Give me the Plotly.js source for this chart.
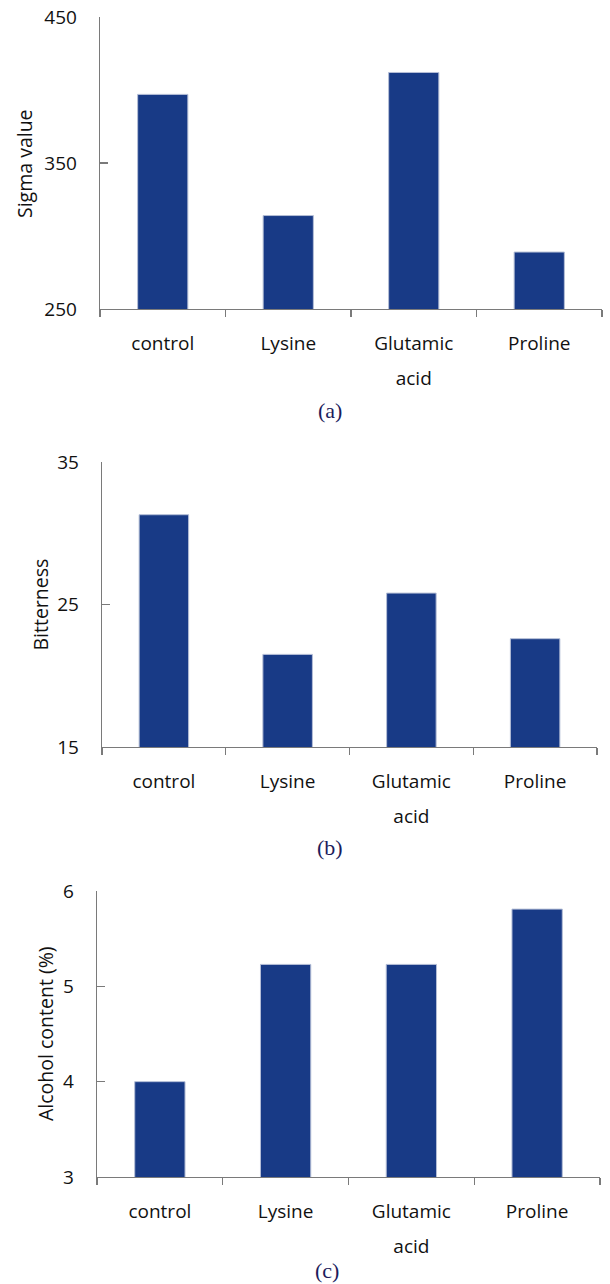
<!DOCTYPE html>
<html>
<head>
<meta charset="utf-8">
<script src="https://cdn.plot.ly/plotly-3.0.1.min.js"></script>
<style>html,body{margin:0;padding:0;background:#fff;}#chart{width:610px;height:1284px;}</style>
</head>
<body>
<div id="chart"></div>
<script>
// ---- data ----
var categories = ["control", "Lysine", "Glutamic acid", "Proline"];
var tickLines = [["control"], ["Lysine"], ["Glutamic", "acid"], ["Proline"]];
var sigmaValue = [397, 314, 412, 289];
var bitterness = [31.3, 21.5, 25.8, 22.6];
var alcoholContent = [4.0, 5.23, 5.23, 5.81];
var yTitles = ["Sigma value", "Bitterness", "Alcohol content (%)"];
var captions = ["(a)", "(b)", "(c)"];
var yRanges = [[250, 450], [15, 35], [3, 6]];
var yDticks = [100, 10, 1];

// ---- layout helpers ----
var W = 610, H = 1284;
var panels = [
  {x0: 100, x1: 602, yTop: 17, yBot: 309, titleX: 25, capX: 330, capY: 410},
  {x0: 102, x1: 597, yTop: 462, yBot: 747, titleX: 40, capX: 330, capY: 847},
  {x0: 97, x1: 600, yTop: 891, yBot: 1177, titleX: 45, capX: 327, capY: 1270}
];
var series = [sigmaValue, bitterness, alcoholContent];
var barColor = "#183a86";
var axisColor = "#7a7a7a";
var textFont = "Open Sans, Noto Sans, sans-serif";

var tickText = tickLines.map(function (lines) {
  return lines.map(function (l) { return '<span style="font-size:19px">' + l + '</span>'; }).join("<br>");
});

var data = [];
var layout = {
  width: W, height: H,
  margin: {l: 0, r: 0, t: 0, b: 0},
  paper_bgcolor: "#fff", plot_bgcolor: "#fff",
  showlegend: false,
  bargap: 0.6,
  annotations: []
};

panels.forEach(function (p, i) {
  var sfx = i === 0 ? "" : String(i + 1);
  data.push({
    type: "bar",
    x: categories,
    y: series[i],
    xaxis: "x" + sfx,
    yaxis: "y" + sfx,
    marker: {color: barColor, line: {color: "#b4bed6", width: 1}},
    hoverinfo: "x+y"
  });
  layout["xaxis" + sfx] = {
    domain: [p.x0 / W, p.x1 / W],
    anchor: "y" + sfx,
    type: "category",
    range: [-0.5, 3.5],
    tickmode: "array",
    tickvals: categories,
    ticktext: tickText,
    tickson: "boundaries",
    ticks: "outside",
    ticklen: 7,
    tickwidth: 1.3,
    tickcolor: axisColor,
    showline: true,
    linecolor: axisColor,
    linewidth: 1.3,
    showgrid: false,
    zeroline: false,
    tickangle: 0,
    ticklabelstandoff: 8,
    tickfont: {family: textFont, size: 26.5, color: "#111"},
    fixedrange: true
  };
  layout["yaxis" + sfx] = {
    domain: [1 - p.yBot / H, 1 - p.yTop / H],
    anchor: "x" + sfx,
    range: yRanges[i],
    dtick: yDticks[i],
    tick0: yRanges[i][0],
    ticks: "inside",
    ticklen: 8,
    tickwidth: 1.3,
    tickcolor: axisColor,
    showline: true,
    linecolor: axisColor,
    linewidth: 1.3,
    showgrid: false,
    zeroline: false,
    ticklabelstandoff: 18,
    tickfont: {family: textFont, size: 19, color: "#111"},
    fixedrange: true
  };
  layout.annotations.push({
    text: yTitles[i],
    xref: "paper", yref: "paper",
    x: p.titleX / W, y: 1 - ((p.yTop + p.yBot) / 2) / H,
    xanchor: "center", yanchor: "middle",
    textangle: -90,
    showarrow: false,
    font: {family: textFont, size: 19.5, color: "#111"}
  });
  layout.annotations.push({
    text: captions[i],
    xref: "paper", yref: "paper",
    x: p.capX / W, y: 1 - p.capY / H,
    xanchor: "center", yanchor: "middle",
    borderpad: 0,
    showarrow: false,
    font: {family: "Liberation Serif, Times New Roman, serif", size: 22, color: "#1c1c5c"}
  });
});

Plotly.newPlot("chart", data, layout, {displayModeBar: false, staticPlot: true});
</script>
</body>
</html>
